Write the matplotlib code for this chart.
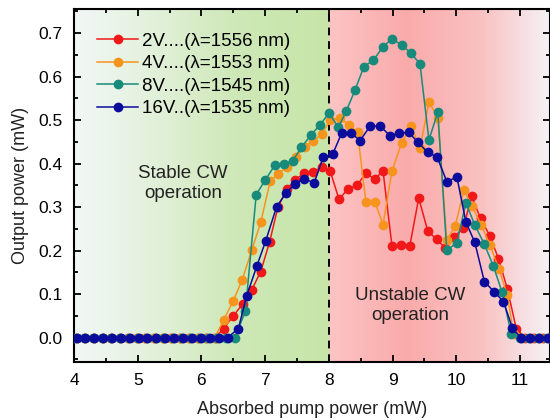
import numpy as np
import matplotlib
matplotlib.use("Agg")
import matplotlib.pyplot as plt
from matplotlib.lines import Line2D
from matplotlib.ticker import MultipleLocator

plt.rcParams['font.family'] = ['Liberation Sans', 'DejaVu Sans']

# ---- data ----
# 2 V (lambda = 1556 nm)
x_2v = [4.04, 4.18, 4.31, 4.45, 4.58, 4.72, 4.85, 4.99, 5.12, 5.26, 5.40, 5.53,
        5.67, 5.80, 5.94, 6.07, 6.21,
        6.35, 6.50, 6.65, 6.79, 6.93, 7.07, 7.20, 7.34, 7.47, 7.61, 7.75, 7.89,
        8.02, 8.16, 8.30, 8.44, 8.58, 8.72, 8.85, 8.99, 9.13, 9.27, 9.41, 9.55,
        9.69, 9.82, 9.97, 10.11, 10.24, 10.38, 10.53, 10.66, 10.80, 10.94,
        11.08, 11.22, 11.36, 11.50]
y_2v = [0, 0, 0, 0, 0, 0, 0, 0, 0, 0, 0, 0,
        0, 0, 0, 0, 0,
        0.021, 0.050, 0.078, 0.110, 0.152, 0.220, 0.300, 0.341, 0.363, 0.378, 0.381, 0.392,
        0.383, 0.318, 0.342, 0.350, 0.378, 0.365, 0.383, 0.211, 0.214, 0.211, 0.321, 0.246,
        0.226, 0.207, 0.232, 0.253, 0.325, 0.274, 0.233, 0.182, 0.113, 0.021,
        0, 0, 0, 0]

# 4 V (lambda = 1553 nm)
x_4v = [4.04, 4.18, 4.31, 4.45, 4.58, 4.72, 4.85, 4.99, 5.12, 5.26, 5.40, 5.53,
        5.67, 5.80, 5.94, 6.07, 6.21,
        6.35, 6.50, 6.64, 6.79, 6.93, 7.08, 7.20, 7.34, 7.48, 7.62, 7.75, 7.89,
        8.02, 8.17, 8.31, 8.45, 8.58, 8.72, 8.85, 8.99, 9.14, 9.29, 9.43, 9.57,
        9.71, 9.85, 9.98, 10.12, 10.25, 10.39, 10.53, 10.67, 10.80, 10.90,
        11.03, 11.17, 11.31, 11.45]
y_4v = [0, 0, 0, 0, 0, 0, 0, 0, 0, 0, 0, 0,
        0, 0, 0, 0, 0,
        0.041, 0.085, 0.133, 0.201, 0.265, 0.360, 0.377, 0.392, 0.415, 0.439, 0.452, 0.468,
        0.500, 0.505, 0.490, 0.472, 0.313, 0.313, 0.260, 0.383, 0.447, 0.487, 0.435, 0.542,
        0.506, 0.224, 0.256, 0.339, 0.302, 0.259, 0.213, 0.157, 0.098, 0.008,
        0, 0, 0, 0]

# 8 V (lambda = 1545 nm)
x_8v = [4.02, 4.16, 4.30, 4.44, 4.58, 4.72, 4.86, 5.00, 5.14, 5.28, 5.42, 5.56,
        5.70, 5.84, 5.97, 6.11, 6.25, 6.39, 6.53,
        6.69, 6.86, 7.00, 7.15, 7.29, 7.43, 7.57, 7.72, 7.86, 8.00, 8.15, 8.27,
        8.41, 8.55, 8.70, 8.85, 8.99, 9.14, 9.29, 9.43, 9.57, 9.71, 9.85, 10.01,
        10.15, 10.29, 10.44, 10.58, 10.72, 10.86,
        11.00, 11.14, 11.28, 11.42]
y_8v = [0, 0, 0, 0, 0, 0, 0, 0, 0, 0, 0, 0,
        0, 0, 0, 0, 0, 0, 0,
        0.062, 0.329, 0.362, 0.396, 0.400, 0.406, 0.438, 0.466, 0.489, 0.516, 0.484, 0.520,
        0.569, 0.623, 0.638, 0.669, 0.687, 0.673, 0.654, 0.629, 0.455, 0.518, 0.201, 0.218,
        0.310, 0.259, 0.215, 0.165, 0.104, 0.009,
        0, 0, 0, 0]

# 16 V (lambda = 1535 nm)
x_16v = [4.04, 4.18, 4.32, 4.46, 4.60, 4.74, 4.88, 5.02, 5.15, 5.29, 5.43, 5.57,
         5.71, 5.85, 5.99, 6.13, 6.27, 6.41,
         6.58, 6.71, 6.87, 7.01, 7.18, 7.33, 7.47, 7.61, 7.77, 7.91, 8.06, 8.20,
         8.35, 8.49, 8.65, 8.81, 8.96, 9.10, 9.25, 9.40, 9.55, 9.70, 9.85, 10.01,
         10.15, 10.29, 10.44, 10.59, 10.74, 10.88,
         11.01, 11.15, 11.30, 11.44]
y_16v = [0, 0, 0, 0, 0, 0, 0, 0, 0, 0, 0, 0,
         0, 0, 0, 0, 0, 0,
         0.021, 0.096, 0.165, 0.223, 0.301, 0.333, 0.354, 0.365, 0.356, 0.415, 0.422, 0.470,
         0.470, 0.453, 0.487, 0.486, 0.464, 0.470, 0.472, 0.449, 0.426, 0.415, 0.359, 0.369,
         0.266, 0.219, 0.129, 0.106, 0.083, 0.022,
         0, 0, 0, 0]

labels = ["2V....(\u03bb=1556 nm)", "4V....(\u03bb=1553 nm)",
          "8V....(\u03bb=1545 nm)", "16V..(\u03bb=1535 nm)"]
colors = ["#f01818", "#f7941d", "#178a7c", "#0c0c9c"]

xmin, xmax = 4.0, 11.47
ymin, ymax = -0.056, 0.755

fig = plt.figure(figsize=(5.5, 4.2), dpi=100)
ax = fig.add_axes([0.1345, 0.138, 0.8655, 0.84])

# background: green (stable) fading in from the left, red (unstable) fading out to the right
gx = np.linspace(xmin, xmax, 600)
stops_x = [4.0, 5.0, 6.5, 7.99, 8.0, 9.2, 10.4, 11.47]
stops_r = [0.95, 0.90, 0.81, 0.78, 0.99, 0.98, 0.98, 0.96]
stops_g = [0.97, 0.95, 0.91, 0.90, 0.77, 0.67, 0.76, 0.95]
stops_b = [0.97, 0.88, 0.72, 0.66, 0.77, 0.67, 0.76, 0.97]
rgb = np.stack([np.interp(gx, stops_x, stops_r),
                np.interp(gx, stops_x, stops_g),
                np.interp(gx, stops_x, stops_b)], axis=-1)[None, :, :]
ax.imshow(rgb, extent=[xmin, xmax, ymin, ymax], aspect='auto', zorder=0,
          interpolation='bilinear')

ax.axvline(8.0, color='black', linestyle=(0, (4, 3)), linewidth=1.4, zorder=1)

series = [(x_2v, y_2v), (x_4v, y_4v), (x_8v, y_8v), (x_16v, y_16v)]
for (xs, ys), c in zip(series, colors):
    ax.plot(xs, ys, '-o', color=c, markersize=6, linewidth=1.1, zorder=3, clip_on=True)

handles = [Line2D([], [], color=c, marker='o', markersize=6, linewidth=1.1) for c in colors]
ax.legend(handles, labels, loc='upper left', bbox_to_anchor=(0.025, 0.965), frameon=False,
          fontsize=13.5, handlelength=2.2, handletextpad=0.2, labelspacing=0.28,
          borderaxespad=0.2)

ax.text(5.71, 0.355, "Stable CW\noperation", ha='center', va='center', fontsize=13.5,
        linespacing=1.2, color='#222222')
ax.text(9.27, 0.074, "Unstable CW\noperation", ha='center', va='center', fontsize=13.5,
        linespacing=1.2, color='#222222')

ax.set_xlim(xmin, xmax)
ax.set_ylim(ymin, ymax)
ax.xaxis.set_major_locator(MultipleLocator(1))
ax.xaxis.set_minor_locator(MultipleLocator(0.5))
ax.yaxis.set_major_locator(MultipleLocator(0.1))
ax.yaxis.set_minor_locator(MultipleLocator(0.05))
ax.yaxis.set_major_formatter(plt.FormatStrFormatter('%.1f'))
ax.tick_params(which='both', direction='in', top=True, right=True, width=1.3,
               labelsize=12.5, pad=8)
ax.tick_params(which='major', length=5)
ax.tick_params(which='minor', length=3)
for sp in ax.spines.values():
    sp.set_linewidth(1.5)

ax.set_xlabel("Absorbed pump power (mW)", fontsize=13, labelpad=9, color='#222222')
ax.set_ylabel("Output power (mW)", fontsize=13, labelpad=7, color='#222222')

fig.savefig("out.png", dpi=100)
